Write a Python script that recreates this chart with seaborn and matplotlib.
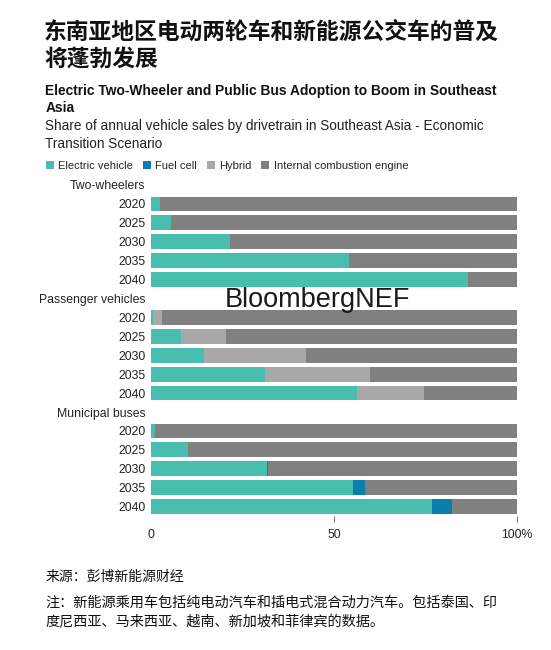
import pandas as pd
import matplotlib.pyplot as plt
import seaborn as sns
from matplotlib.patches import Patch

# === DATOS ===
groups = ["Two-wheelers", "Passenger vehicles", "Municipal buses"]
years = ["2020", "2025", "2030", "2035", "2040"]

ev_two = [2.5, 5.4, 21.6, 54.2, 86.7]
ev_pass = [0.5, 8.2, 14.6, 31.2, 56.3]
ev_bus = [1.1, 10.0, 31.7, 55.1, 76.7]

fc_two = [0, 0, 0, 0, 0]
fc_pass = [0, 0, 0, 0, 0]
fc_bus = [0, 0, 0.3, 3.4, 5.7]

hy_two = [0, 0, 0, 0, 0]
hy_pass = [2.5, 12.3, 27.8, 28.7, 18.3]
hy_bus = [0, 0, 0, 0, 0]

series_names = ["Electric vehicle", "Fuel cell", "Hybrid", "Internal combustion engine"]
colors = ["#48BFAE", "#0A7FAE", "#A8A8A8", "#808080"]

# === TABLA (filas de cabecera + años) ===
rows = []
for g, ev, fc, hy in zip(groups, [ev_two, ev_pass, ev_bus],
                         [fc_two, fc_pass, fc_bus], [hy_two, hy_pass, hy_bus]):
    rows.append({"key": g, "label": g, "ev": 0, "fc": 0, "hy": 0, "total": 0})
    for y, a, b, c in zip(years, ev, fc, hy):
        rows.append({"key": g + "|" + y, "label": y, "ev": a, "fc": b, "hy": c, "total": 100})
df = pd.DataFrame(rows)
df["c_ev"] = df["ev"]
df["c_fc"] = df["ev"] + df["fc"]
df["c_hy"] = df["ev"] + df["fc"] + df["hy"]

# === FUENTES ===
sns.set_theme(style="white")
plt.rcParams["font.family"] = ["Liberation Sans", "Noto Sans CJK SC", "DejaVu Sans"]
cjk = ["Noto Sans CJK SC", "DejaVu Sans"]

fig = plt.figure(figsize=(5.51, 6.5), dpi=100)
ax = fig.add_axes([0.274, 0.206, 0.664, 0.524])

order = list(df["key"])
# barras apiladas: se dibuja de mayor acumulado a menor
for col, c in zip(["total", "c_hy", "c_fc", "c_ev"], [colors[3], colors[2], colors[1], colors[0]]):
    sns.barplot(data=df, x=col, y="key", order=order, color=c, orient="h",
                width=0.78, linewidth=0, saturation=1, ax=ax)

ax.set_xlim(0, 100)
ax.set_ylim(len(order) - 0.5, -0.5)
ax.set_xticks([0, 50, 100])
ax.set_xticklabels(["0", "50", "100%"])
ax.set_yticks(range(len(order)))
ax.set_yticklabels(df["label"])
ax.set_xlabel("")
ax.set_ylabel("")
for s in ax.spines.values():
    s.set_visible(False)
ax.tick_params(axis="x", length=4, width=0.6, color="#555555", labelsize=8.8,
               pad=5, labelcolor="#222222", bottom=True)
ax.tick_params(axis="y", length=0, labelsize=8.8, pad=4, labelcolor="#222222")
ax.xaxis.get_major_ticks()[0].tick1line.set_visible(False)

# === TEXTOS ===
fig.text(0.080, 0.968, "东南亚地区电动两轮车和新能源公交车的普及\n将蓬勃发展", fontsize=16.4,
         fontweight="bold", family=cjk, va="top", ha="left", linespacing=1.25, color="#111111")
fig.text(0.082, 0.871, "Electric Two-Wheeler and Public Bus Adoption to Boom in Southeast\nAsia",
         fontsize=9.9, fontweight="bold", va="top", ha="left", linespacing=1.3, color="#111111")
fig.text(0.082, 0.817, "Share of annual vehicle sales by drivetrain in Southeast Asia - Economic\nTransition Scenario",
         fontsize=9.8, va="top", ha="left", linespacing=1.38, color="#222222")

handles = [Patch(facecolor=c, edgecolor="none") for c in colors]
fig.legend(handles, series_names, loc="upper left", bbox_to_anchor=(0.083, 0.752), ncol=4,
           frameon=False, fontsize=8, handlelength=0.7, handleheight=0.7,
           handletextpad=0.4, columnspacing=0.9, borderaxespad=0, borderpad=0)

fig.text(0.576, 0.539, "BloombergNEF", fontsize=19.5, ha="center", va="center", color="#1a1a1a")

fig.text(0.082, 0.112, "来源：彭博新能源财经", fontsize=10, family=cjk, va="center", ha="left",
         color="#111111")
fig.text(0.082, 0.058, "注：新能源乘用车包括纯电动汽车和插电式混合动力汽车。包括泰国、印\n度尼西亚、马来西亚、越南、新加坡和菲律宾的数据。",
         fontsize=10.2, family=cjk, va="center", ha="left", linespacing=1.45, color="#111111")

plt.savefig("out.png", dpi=100)
